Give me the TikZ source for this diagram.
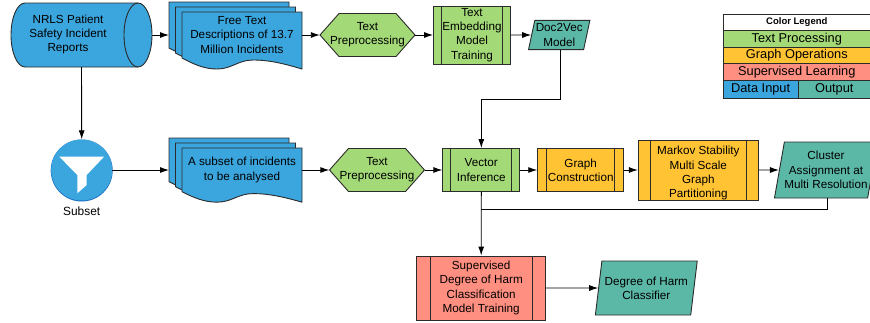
\documentclass[tikz,border=0pt]{standalone}
\usepackage{fontspec}
\setmainfont{Liberation Sans}
\usetikzlibrary{arrows.meta,shapes.geometric}

\definecolor{inputblue}{HTML}{3BA5DE}
\definecolor{funnelblue}{HTML}{1F70C4}
\definecolor{textgreen}{HTML}{A3D977}
\definecolor{graphorange}{HTML}{FFC333}
\definecolor{superred}{HTML}{FF8F80}
\definecolor{outteal}{HTML}{5CB8A6}
\definecolor{edgegrey}{HTML}{2B2B2B}

% one sheet of a document stack, #1,#2 = top left corner, #3 = vertical scale
\newcommand{\docsheet}[3]{
  \draw[sheet, shift={(#1,#2)}, yscale=#3] (0,0) -- (120,0) -- (120,57)
    .. controls (103,52) and (88,48) .. (71,48)
    .. controls (56,48) and (50,57) .. (35,57)
    .. controls (23,57) and (13,53) .. (0,46) -- cycle;
}
% hexagon outline, #1,#2 = left tip
\newcommand{\hexoutline}[2]{
  \draw[sheet, fill=textgreen, shift={(#1,#2)}] (0,0) -- (19,-21.5) -- (76,-21.5)
    -- (95,0) -- (76,21.5) -- (19,21.5) -- cycle;
}

\begin{document}
\begin{tikzpicture}[
    x=1pt, y=-1pt,
    >={Latex[length=9pt,width=6pt]},
    flow/.style = {line width=0.9pt, draw=black},
    sheet/.style = {line width=0.9pt, draw=edgegrey, fill=inputblue},
    plain/.style = {inner sep=0pt, align=center, font=\fontsize{11.7}{14.2}\selectfont},
    procbox/.style = {plain, draw=edgegrey, line width=0.9pt, path picture={
        \draw[line width=0.9pt, draw=edgegrey]
          ([xshift=#1]path picture bounding box.north west) -- ([xshift=#1]path picture bounding box.south west)
          ([xshift=-#1]path picture bounding box.north east) -- ([xshift=-#1]path picture bounding box.south east);
      }},
    output/.style = {plain, trapezium, trapezium stretches=true, trapezium left angle=75,
      trapezium right angle=105, draw=edgegrey, line width=0.9pt, fill=outteal},
    legendrow/.style = {draw=edgegrey, line width=0.9pt, inner sep=0pt, anchor=north west,
      minimum height=16.7, font=\fontsize{12.8}{14}\selectfont}
  ]
  \useasboundingbox (0,0) rectangle (870,322);

  % top row
  \draw[sheet] (25,3) -- (138,3) arc[start angle=-90, end angle=90, x radius=14, y radius=32]
    -- (25,67) arc[start angle=90, end angle=270, x radius=14, y radius=32] -- cycle;
  \draw[sheet, fill=none] (138,3) arc[start angle=-90, end angle=-270, x radius=14, y radius=32];
  \node[inner sep=0pt, minimum width=141, minimum height=64] (reports) at (81.5,35) {};
  \node[plain] (reportstext) at (68,34.5) {NRLS Patient\\Safety Incident\\Reports};
  \docsheet{169}{2}{1}
  \docsheet{175.5}{7}{1}
  \docsheet{182}{12}{1}
  \coordinate (docAin) at (169,35);
  \node[plain, minimum width=120, minimum height=40] (docA) at (242,35)
    {Free Text\\Descriptions of 13.7\\Million Incidents};
  \hexoutline{320}{35}
  \node[plain, minimum width=95, minimum height=43] (hexA) at (367.5,35) {Text\\Preprocessing};
  \node[procbox=8, fill=textgreen, minimum width=77, minimum height=58] (embed) at (472,35)
    {Text\\Embedding\\Model\\Training};
  \node[output, minimum width=61.7, minimum height=29.3] (doc2vec) at (559.2,35) {Doc2Vec\\Model};

  % middle row
  \node[circle, fill=funnelblue, minimum size=62, inner sep=0pt] (subsetrim) at (81.7,170.5) {};
  \node[circle, fill=inputblue, minimum size=61, inner sep=0pt] (subset) at (81.7,170) {};
  \fill[white] (59.3,156.7) -- (104,156.7) -- (86.7,175) -- (86.7,185) -- (77.3,193.3) -- (77.3,175) -- cycle;
  \node[plain, font=\fontsize{11.9}{14}\selectfont] (subsetlabel) at (81.7,211) {Subset};
  \docsheet{169}{138}{0.95}
  \docsheet{175.5}{143}{0.95}
  \docsheet{182}{148}{0.95}
  \coordinate (docBin) at (169,170);
  \node[plain, minimum width=120, minimum height=40] (docB) at (242,170)
    {A subset of incidents\\to be analysed};
  \hexoutline{329.5}{170}
  \node[plain, minimum width=95, minimum height=43] (hexB) at (377,170) {Text\\Preprocessing};
  \node[procbox=8, fill=textgreen, minimum width=77, minimum height=43] (vector) at (481.3,170)
    {Vector\\Inference};
  \node[procbox=9, fill=graphorange, minimum width=86, minimum height=43] (graph) at (580.7,170)
    {Graph\\Construction};
  \node[procbox=12.3, fill=graphorange, minimum width=120, minimum height=57] (markov) at (698.3,170)
    {\rule{0pt}{15pt}Markov Stability\\Multi Scale\\Graph\\Partitioning};
  \node[output, minimum width=102, minimum height=56] (cluster) at (826,170)
    {Cluster\\Assignment at\\Multi Resolution};

  % bottom row
  \node[procbox=13.3, fill=superred, minimum width=129, minimum height=64] (supervised) at (481.2,288)
    {Supervised\\Degree of Harm\\Classification\\Model Training};
  \node[output, minimum width=102.7, minimum height=54] (classifier) at (646.3,288)
    {Degree of Harm\\Classifier};

  % legend
  \node[legendrow, fill=white, minimum width=147.3, font=\fontsize{9.5}{11}\selectfont\bfseries] (legendtitle) at (722.7,13.7) {Color Legend};
  \foreach \i/\rowcol/\rowtext in {0/textgreen/Text Processing, 1/graphorange/Graph Operations, 2/superred/Supervised Learning}{
    \node[legendrow, fill=\rowcol, minimum width=147.3] (legend\i) at (722.7,30+16.7*\i) {\rowtext};
  }
  \node[legendrow, fill=inputblue, minimum width=75, minimum height=18] (legendinput) at (722.7,80.2) {Data Input};
  \node[legendrow, fill=outteal, minimum width=72.3, minimum height=18] (legendoutput) at (797.7,80.2) {Output};

  % connectors
  \draw[flow,->] (reports.east) -- (docAin);
  \draw[flow,->] (docA.east) -- (hexA.west);
  \draw[flow,->] (hexA.east) -- (embed.west);
  \draw[flow,->] (embed.east) -- (doc2vec.west);
  \draw[flow,->] (reports.south) -- (subset.north);
  \draw[flow,->] (subset.east) -- (docBin);
  \draw[flow,->] (docB.east) -- (hexB.west);
  \draw[flow,->] (hexB.east) -- (vector.west);
  \draw[flow,->] (vector.east) -- (graph.west);
  \draw[flow,->] (graph.east) -- (markov.west);
  \draw[flow,->] (markov.east) -- (cluster.west);
  \coordinate (bendA) at (560,99);
  \draw[flow,->] (doc2vec.south -| bendA) -- (bendA) -| (vector.north);
  \draw[flow,->] (vector.south) -- (supervised.north);
  \coordinate (bendB) at (827,209);
  \draw[flow] (cluster.south -| bendB) -- (bendB) -- (bendB -| vector.south);
  \draw[flow,->] (supervised.east) -- (classifier.west);
\end{tikzpicture}
\end{document}
